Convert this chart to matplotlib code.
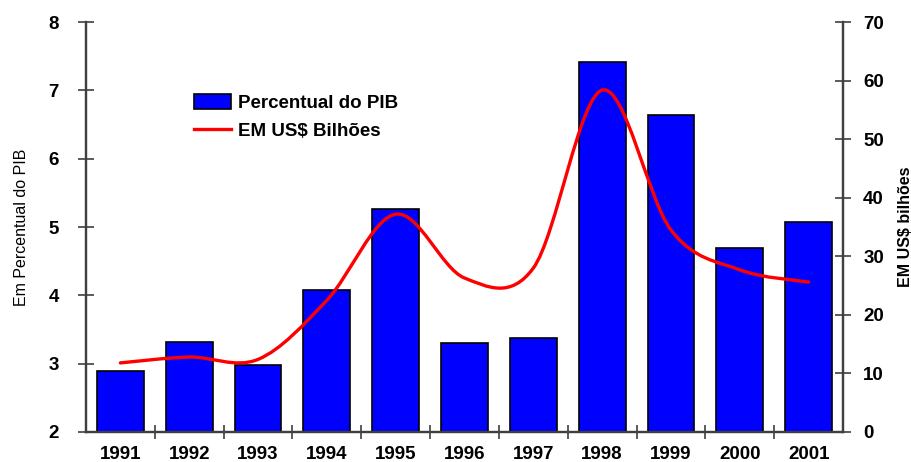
import numpy as np
import matplotlib.pyplot as plt
from matplotlib.path import Path
from matplotlib.patches import PathPatch
from matplotlib.lines import Line2D
from matplotlib.patches import Patch

plt.rcParams['font.family'] = ['Liberation Sans', 'DejaVu Sans']

years = ['1991', '1992', '1993', '1994', '1995', '1996', '1997', '1998', '1999', '2000', '2001']
pct_pib = [2.89, 3.32, 2.98, 4.08, 5.26, 3.30, 3.38, 7.41, 6.64, 4.69, 5.07]
usd_bi = [11.8, 12.8, 12.4, 22.5, 37.2, 26.3, 28.0, 58.4, 34.5, 27.7, 25.6]


def smooth_path(xs, ys):
    # cubic bezier segments through every point (Catmull-Rom style)
    pts = np.column_stack([xs, ys]).astype(float)
    ext = np.vstack([pts[0], pts, pts[-1]])
    verts = [tuple(pts[0])]
    codes = [Path.MOVETO]
    for i in range(1, len(ext) - 2):
        p0, p1, p2, p3 = ext[i - 1], ext[i], ext[i + 1], ext[i + 2]
        c1 = p1 + (p2 - p0) / 6.0
        c2 = p2 - (p3 - p1) / 6.0
        verts += [tuple(c1), tuple(c2), tuple(p2)]
        codes += [Path.CURVE4] * 3
    return Path(verts, codes)


fig = plt.figure(figsize=(9.11, 4.62), dpi=100)
ax = fig.add_axes([0.0944, 0.065, 0.831, 0.887])
ax2 = ax.twinx()

x = np.arange(len(years))
ax.bar(x, pct_pib, width=0.68, bottom=0, color='#0000ff', edgecolor='black',
       linewidth=1.2, zorder=2)
ax.set_ylim(2, 8)
ax.set_xlim(-0.5, len(years) - 0.5)
ax2.set_ylim(0, 70)

curve = PathPatch(smooth_path(x, usd_bi), facecolor='none', edgecolor='#ff0000',
                  linewidth=2.4, capstyle='round', zorder=3)
ax2.add_patch(curve)

spine_col = '#404040'
for a in (ax, ax2):
    a.spines['top'].set_visible(False)
    for s in ('left', 'right', 'bottom'):
        a.spines[s].set_color(spine_col)
        a.spines[s].set_linewidth(1.6)

ax.set_yticks(range(2, 9))
ax2.set_yticks(range(0, 71, 10))
ax.tick_params(axis='y', direction='inout', length=11, width=1.2, color=spine_col,
               labelsize=13.5, pad=14)
ax2.tick_params(axis='y', direction='inout', length=11, width=1.2, color=spine_col,
                labelsize=13.5, pad=9)
for lab in ax.get_yticklabels() + ax2.get_yticklabels():
    lab.set_fontweight('bold')

ax.set_xticks(x)
ax.set_xticklabels(years, fontsize=13.5, fontweight='bold')
ax.set_xticks(np.arange(0.5, len(years) - 1, 1), minor=True)
ax.tick_params(axis='x', which='major', length=0, pad=10)
ax.tick_params(axis='x', which='minor', direction='inout', length=10, width=1.2,
               color=spine_col)
ax2.tick_params(axis='x', length=0)

ax.set_ylabel('Em Percentual do PIB', fontsize=11.5, labelpad=14)
ax2.set_ylabel('EM US$ bilhões', fontsize=11.5, fontweight='bold', labelpad=10)

handles = [Patch(facecolor='#0000ff', edgecolor='black', linewidth=1.2),
           Line2D([0], [0], color='#ff0000', linewidth=2.4)]
ax.legend(handles, ['Percentual do PIB', 'EM US$ Bilhões'], loc='upper left',
          bbox_to_anchor=(0.12, 0.865), frameon=False,
          prop={'size': 13.5, 'weight': 'bold'}, handlelength=2.0,
          handleheight=0.8, handletextpad=0.35, labelspacing=0.55)

fig.savefig('out.png', dpi=100)
